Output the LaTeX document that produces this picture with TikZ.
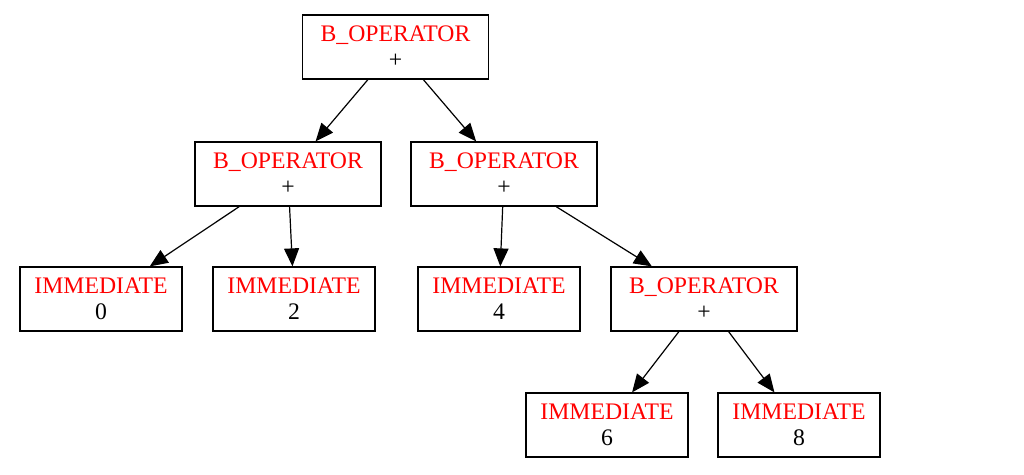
\documentclass[tikz,border=0pt]{standalone}
\usepackage{fontspec}
\setmainfont{Liberation Serif}
\usetikzlibrary{arrows.meta,positioning}

\begin{document}
\begin{tikzpicture}[x=1bp,y=-1bp]
      \useasboundingbox (0,0) rectangle (1024,475);
      \begin{scope}[every node/.style={rectangle,draw=black,line width=1.2bp,
          align=center,inner sep=0pt,minimum height=64bp,
          font=\fontsize{23.8}{26}\selectfont}]
        \node (P0) [minimum width=186bp] at (395.5,47) {\textcolor{red}{B\_OPERATOR}\\+};
        \node (P1) [minimum width=186bp] at (288,174) {\textcolor{red}{B\_OPERATOR}\\+};
        \node (P2) [minimum width=186bp] at (504,174) {\textcolor{red}{B\_OPERATOR}\\+};
        \node (I0) [minimum width=162bp] at (101,299) {\textcolor{red}{IMMEDIATE}\\0};
        \node (I2) [minimum width=162bp] at (294,299) {\textcolor{red}{IMMEDIATE}\\2};
        \node (I4) [minimum width=162bp] at (499,299) {\textcolor{red}{IMMEDIATE}\\4};
        \node (P3) [minimum width=186bp] at (704,299) {\textcolor{red}{B\_OPERATOR}\\+};
        \node (I6) [minimum width=162bp] at (607,425) {\textcolor{red}{IMMEDIATE}\\6};
        \node (I8) [minimum width=162bp] at (799,425) {\textcolor{red}{IMMEDIATE}\\8};
      \end{scope}
      \begin{scope}
        [every edge/.style={draw=black,line width=1.2bp,
          -{Triangle[length=18bp,width=15bp]}}]
        \path (P0) edge (P1);
        \path (P0) edge (P2);
        \path (P1) edge (I0);
        \path (P1) edge (I2);
        \path (P2) edge (I4);
        \path (P2) edge (P3);
        \path (P3) edge (I6);
        \path (P3) edge (I8);
      \end{scope}
    \end{tikzpicture}
\end{document}
